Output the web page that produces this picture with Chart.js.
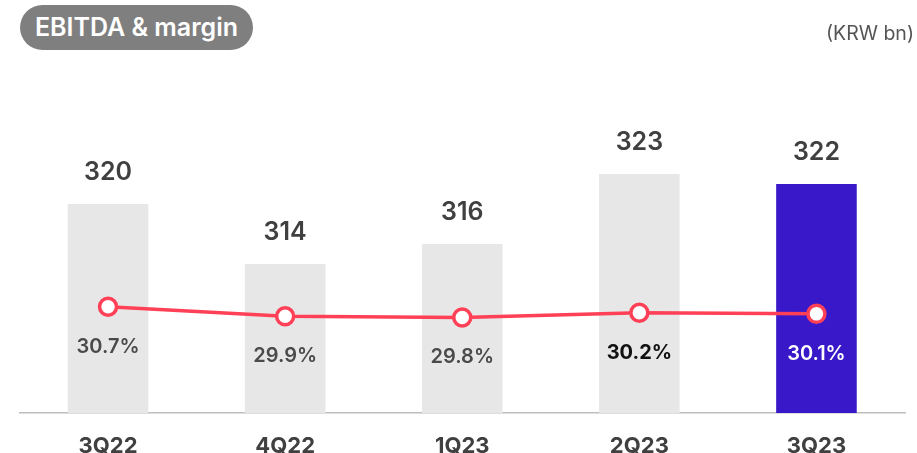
<!DOCTYPE html>
<html>
<head>
<meta charset="utf-8">
<script src="https://cdn.jsdelivr.net/npm/chart.js@4"></script>
<style>
  html, body { margin:0; padding:0; background:#fff; }
  #wrap { position:relative; width:917px; height:453px; overflow:hidden; }
  #pill {
    position:absolute; left:20px; top:5px; width:233px; height:45px;
    border-radius:23px; background:#7f7f7f; color:#fff;
    font:600 25px Inter, sans-serif; line-height:45px; text-align:center;
  }
  #unit {
    position:absolute; right:3px; top:21px;
    font:400 19.5px Inter, sans-serif; color:#555;
  }
  canvas { position:absolute; left:0; top:0; }
</style>
</head>
<body>
<div id="wrap">
  <canvas id="chart" width="917" height="453"></canvas>
  <div id="pill">EBITDA &amp; margin</div>
  <div id="unit">(KRW bn)</div>
</div>
<script>
const quarters = ['3Q22','4Q22','1Q23','2Q23','3Q23'];
const ebitda   = [320, 314, 316, 323, 322];
const margin   = [30.7, 29.9, 29.8, 30.2, 30.1];

const barColors   = ['#e7e7e7','#e7e7e7','#e7e7e7','#e7e7e7','#3818c8'];
const pctColors   = ['#4a4a4a','#4a4a4a','#4a4a4a','#111111','#ffffff'];
const RED = '#ff4056';

Chart.defaults.font.family = 'Inter';

/* value labels above bars, % labels under the points */
const labelPlugin = {
  id:'labels',
  afterDatasetsDraw(chart) {
    const ctx = chart.ctx;
    ctx.save();
    ctx.textAlign = 'center';
    ctx.textBaseline = 'middle';
    chart.getDatasetMeta(0).data.forEach((bar, i) => {
      ctx.font = '600 25px Inter';
      ctx.fillStyle = '#404040';
      ctx.fillText(ebitda[i], bar.x, bar.y - 32);
    });
    chart.getDatasetMeta(1).data.forEach((pt, i) => {
      ctx.font = (i === 3 ? '700' : '600') + ' 20px Inter';
      ctx.fillStyle = pctColors[i];
      ctx.fillText(margin[i].toFixed(1) + '%', pt.x, pt.y + 40);
    });
    ctx.restore();
  }
};

new Chart(document.getElementById('chart'), {
  type:'bar',
  data:{
    labels:quarters,
    datasets:[
      { type:'bar', data:ebitda, backgroundColor:barColors, yAxisID:'y',
        barPercentage:0.455, categoryPercentage:1, order:2 },
      { type:'line', data:margin, yAxisID:'y1', borderColor:RED, borderWidth:3.5,
        pointRadius:8.5, pointBorderWidth:3.5, pointBackgroundColor:'#fff',
        pointBorderColor:RED, tension:0, order:1 }
    ]
  },
  options:{
    responsive:false,
    animation:false,
    layout:{ padding:{ left:19.5, right:7.5, top:40, bottom:0 } },
    plugins:{ legend:{display:false}, tooltip:{enabled:false} },
    scales:{
      x:{
        grid:{ display:false, drawTicks:false },
        border:{ display:true, color:'#bdbdbd', width:1.5 },
        ticks:{ color:'#404040', font:{ size:22, weight:'700' }, padding:20 },
        afterFit:s => { s.height = 40; }
      },
      y:{ display:false, min:299.1, max:336.4 },
      y1:{ display:false, min:21.84, max:52.92 }
    }
  },
  plugins:[labelPlugin]
});
</script>
</body>
</html>
